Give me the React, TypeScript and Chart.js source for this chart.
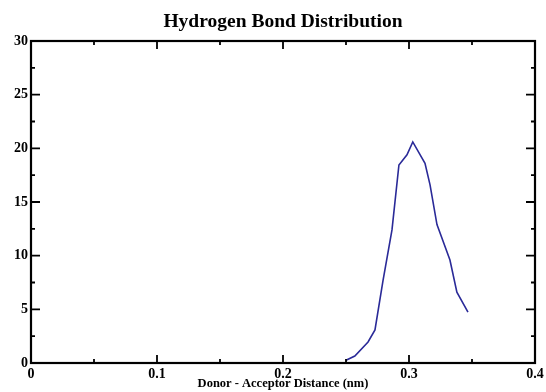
import React, { useEffect, useRef } from "react";
import { Chart, registerables } from "chart.js";

Chart.register(...registerables);

const titleText = "Hydrogen Bond Distribution";
const xAxisTitle = "Donor - Acceptor Distance (nm)";
const distance = [0.25, 0.257, 0.2675, 0.273, 0.2794, 0.2865, 0.292, 0.2984, 0.303, 0.3127, 0.3167, 0.3222, 0.3325, 0.338, 0.3468];
const count = [0.25, 0.65, 1.96, 3.08, 7.7, 12.4, 18.45, 19.4, 20.6, 18.6, 16.6, 12.9, 9.6, 6.6, 4.75];
const xMin = 0, xMax = 0.4, xMajor = 0.1, xMinor = 0.05;
const yMin = 0, yMax = 30, yMajor = 5, yMinor = 2.5;

const frame = {
  id: "frame",
  afterDraw(chart: any) {
    const { ctx, chartArea, scales } = chart;
    const { left, right, top, bottom } = chartArea;
    ctx.save();
    ctx.strokeStyle = "#000";
    ctx.lineWidth = 1.8;
    ctx.beginPath();
    const nx = Math.round((xMax - xMin) / xMinor);
    for (let i = 0; i <= nx; i++) {
      const v = xMin + i * xMinor;
      const len = i % Math.round(xMajor / xMinor) === 0 ? 8 : 4;
      const px = scales.x.getPixelForValue(v);
      ctx.moveTo(px, bottom); ctx.lineTo(px, bottom - len);
      ctx.moveTo(px, top); ctx.lineTo(px, top + len);
    }
    const ny = Math.round((yMax - yMin) / yMinor);
    for (let i = 0; i <= ny; i++) {
      const v = yMin + i * yMinor;
      const len = i % Math.round(yMajor / yMinor) === 0 ? 9 : 4;
      const py = scales.y.getPixelForValue(v);
      ctx.moveTo(left, py); ctx.lineTo(left + len, py);
      ctx.moveTo(right, py); ctx.lineTo(right - len, py);
    }
    ctx.stroke();
    ctx.lineWidth = 2.2;
    ctx.strokeRect(left, top, right - left, bottom - top);
    ctx.restore();
  },
};

export default function App() {
  const ref = useRef<HTMLCanvasElement>(null);
  useEffect(() => {
    const chart = new Chart(ref.current!, {
      type: "line",
      data: {
        datasets: [
          {
            data: distance.map((d, i) => ({ x: d, y: count[i] })),
            borderColor: "#2a2a98",
            borderWidth: 1.6,
            pointRadius: 0,
            tension: 0,
            fill: false,
          },
        ],
      },
      options: {
        animation: false,
        responsive: false,
        layout: { padding: { left: 0, right: 11, top: 0, bottom: 0 } },
        plugins: {
          legend: { display: false },
          tooltip: { enabled: false },
          title: {
            display: true,
            fullSize: false,
            text: titleText,
            color: "#000",
            font: { family: "'Liberation Serif', serif", size: 19.5, weight: "bold", lineHeight: 1.2 },
            padding: { top: 10, bottom: 7.6 },
          },
        },
        scales: {
          x: {
            type: "linear",
            min: xMin,
            max: xMax,
            grid: { display: false, drawTicks: false },
            border: { display: false },
            ticks: {
              stepSize: xMajor,
              color: "#000",
              padding: 3,
              maxRotation: 0,
              font: { family: "'Liberation Serif', serif", size: 14, weight: "bold" },
            },
            title: {
              display: true,
              text: xAxisTitle,
              color: "#000",
              font: { family: "'Liberation Serif', serif", size: 12.5, weight: "bold" },
              padding: { top: 0, bottom: 1 },
            },
            afterFit(scale: any) {
              scale.height = 29;
              scale.paddingLeft = 0;
              scale.paddingRight = 0;
            },
          },
          y: {
            min: yMin,
            max: yMax,
            grid: { display: false, drawTicks: false },
            border: { display: false },
            ticks: {
              stepSize: yMajor,
              color: "#000",
              padding: 3,
              font: { family: "'Liberation Serif', serif", size: 14, weight: "bold" },
            },
            afterFit(scale: any) {
              scale.width = 31;
              scale.paddingTop = 0;
              scale.paddingBottom = 0;
            },
          },
        },
      },
      plugins: [frame],
    });
    return () => chart.destroy();
  }, []);
  return (
    <div style={{ position: "absolute", left: 0, top: 0, width: 546, height: 392, background: "#fff" }}>
      <canvas ref={ref} width={546} height={392} />
    </div>
  );
}
